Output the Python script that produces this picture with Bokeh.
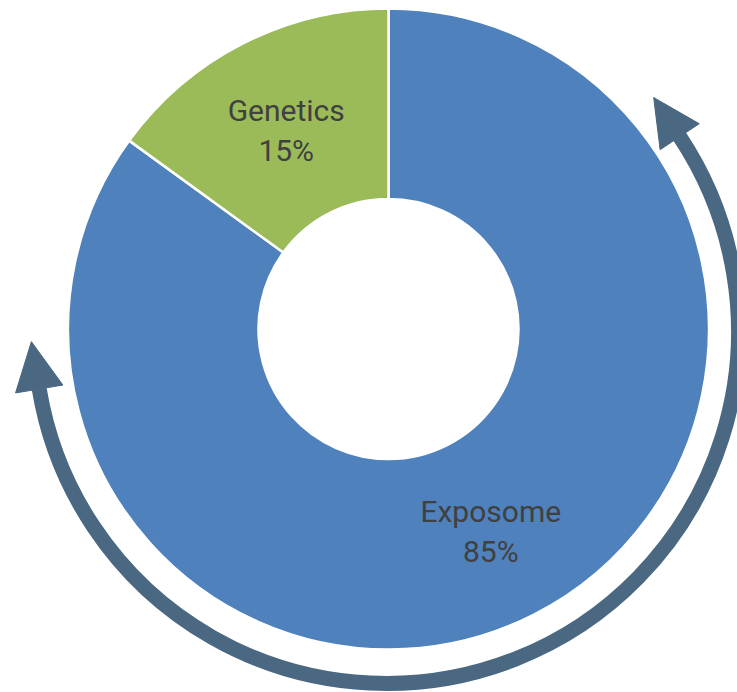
import math
from bokeh.plotting import figure
from bokeh.models import Range1d, ColumnDataSource
from bokeh.core.properties import value
from bokeh.embed import file_html
from bokeh.resources import INLINE

# ---- data ----
categories = ["Exposome", "Genetics"]
shares = [85, 15]
label_texts = ["Exposome\n85%", "Genetics\n15%"]
colors = ["#4F81BD", "#9BBB59"]

# ---- geometry (reference pixel space, y flipped) ----
W, H = 737, 692
cx, cy = 388, H - 328.5
r_in, r_out = 130, 320.5

p = figure(width=W, height=H, output_backend="svg", toolbar_location=None,
           x_range=Range1d(0, W), y_range=Range1d(0, H), min_border=0,
           outline_line_color=None)
p.axis.visible = False
p.grid.visible = False
p.background_fill_color = "white"

# wedges: start at top, go clockwise
total = sum(shares)
starts, ends, lx, ly = [], [], [], []
a = math.pi / 2
for s in shares:
    sweep = 2 * math.pi * s / total
    end = a - sweep
    starts.append(end)
    ends.append(a)
    mid = (a + end) / 2
    rm = (r_in + r_out) / 2
    lx.append(cx + rm * math.cos(mid))
    ly.append(cy + rm * math.sin(mid) - 2)
    a = end

src = ColumnDataSource(dict(start=starts, end=ends, color=colors, x=[cx] * len(shares),
                            y=[cy] * len(shares), lx=lx, ly=ly, text=label_texts))
p.annular_wedge(x="x", y="y", inner_radius=r_in, outer_radius=r_out,
                start_angle="start", end_angle="end", fill_color="color",
                line_color="white", line_width=2.5, source=src)

p.text(x="lx", y="ly", text="text", source=src, text_align="center",
       text_baseline="middle", text_font=value("Roboto"), text_font_size="30px",
       text_color="#404040", text_line_height=1.15)

# ---- circular double arrow ----
acx, acy, R = 386, H - 331, 352
arrow_color = "#4A6882"
a0 = math.radians(189.4)
a1 = math.radians(33.6)
p.arc(x=[acx], y=[acy], radius=R, start_angle=a0, end_angle=a1,
      direction="anticlock", line_color=arrow_color, line_width=15)

def head(theta, sign, base_w=48, length=48):
    bx = acx + R * math.cos(theta)
    by = acy + R * math.sin(theta)
    tx, ty = -math.sin(theta) * sign, math.cos(theta) * sign
    nx, ny = math.cos(theta), math.sin(theta)
    xs = [bx + nx * base_w / 2, bx + tx * length, bx - nx * base_w / 2]
    ys = [by + ny * base_w / 2, by + ty * length, by - ny * base_w / 2]
    return xs, ys

hx1, hy1 = head(a0, -1)
hx2, hy2 = head(a1, 1, base_w=47, length=47)
p.patches(xs=[hx1, hx2], ys=[hy1, hy2], fill_color=arrow_color, line_color=arrow_color)

open("out.html", "w").write(file_html(p, INLINE))
